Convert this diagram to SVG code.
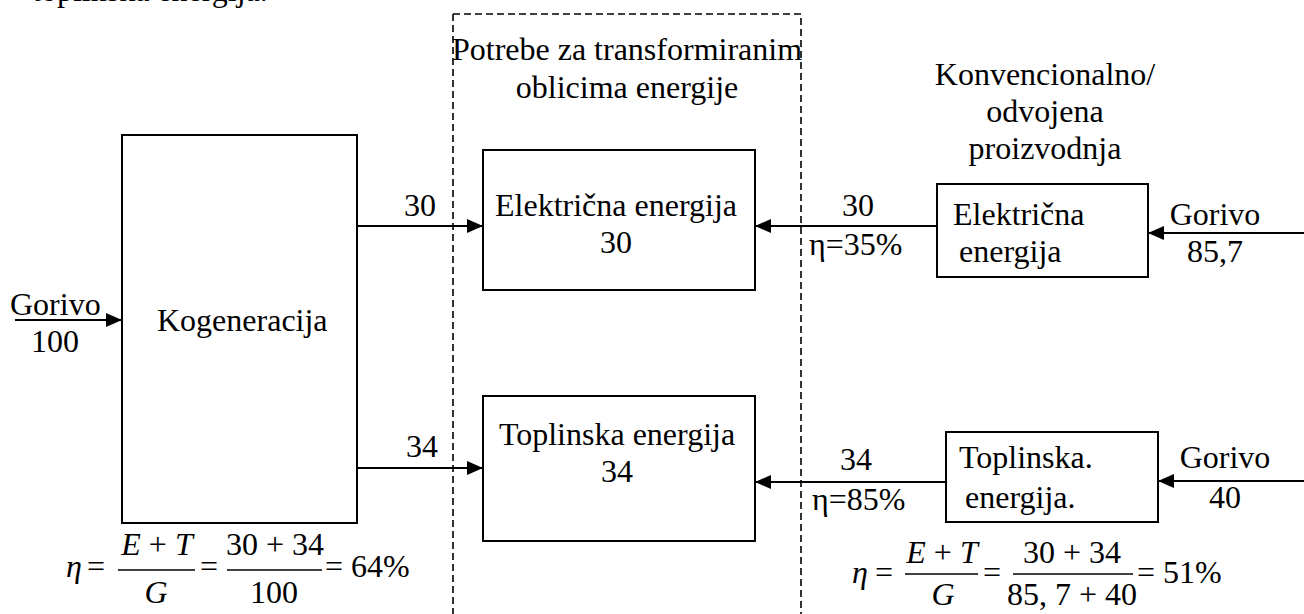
<svg xmlns="http://www.w3.org/2000/svg" width="1304" height="614" viewBox="0 0 1304 614">
<style>
text{font-family:"Liberation Serif","Times New Roman",serif;font-size:32px;fill:#000}
.m{text-anchor:middle}
.i{font-style:italic}
.box{fill:none;stroke:#000;stroke-width:2}
.arr{stroke:#000;stroke-width:2;fill:none;marker-end:url(#ah)}
.frac{stroke:#000;stroke-width:1.5}
</style>
<defs>
<marker id="ah" markerUnits="userSpaceOnUse" markerWidth="18" markerHeight="14" refX="16" refY="7" orient="auto">
<path d="M0,0 L16,7 L0,14 Z" fill="#000"/>
</marker>
</defs>
<rect width="1304" height="614" fill="#fff"/>
<text x="32" y="1">toplinska energija.</text>

<g id="demand-area">
<path d="M453,14 H801 V614 M453,14 V614" fill="none" stroke="#000" stroke-width="1.6" stroke-dasharray="7,4"/>
<text class="m" x="627" y="60">Potrebe za transformiranim</text>
<text class="m" x="627" y="98">oblicima energije</text>
</g>

<g id="kogeneracija">
<rect class="box" x="122" y="135" width="235" height="388"/>
<text x="157" y="331">Kogeneracija</text>
</g>

<g id="el-demand">
<rect class="box" x="483" y="150" width="272" height="140"/>
<text class="m" x="616" y="216">Električna energija</text>
<text class="m" x="616" y="253">30</text>
</g>

<g id="th-demand">
<rect class="box" x="483" y="396" width="272" height="145"/>
<text class="m" x="617" y="445">Toplinska energija</text>
<text class="m" x="617" y="482">34</text>
</g>

<g id="conv-label">
<text class="m" x="1045" y="85">Konvencionalno/</text>
<text class="m" x="1045" y="122">odvojena</text>
<text class="m" x="1045" y="159">proizvodnja</text>
</g>

<g id="conv-el">
<rect class="box" x="937" y="184" width="211" height="93"/>
<text x="953" y="225">Električna</text>
<text x="959" y="262">energija</text>
</g>

<g id="conv-th">
<rect class="box" x="946" y="432" width="212" height="90"/>
<text x="959" y="468">Toplinska.</text>
<text x="965" y="508">energija.</text>
</g>

<g id="connectors">
<line class="arr" x1="15" y1="320" x2="122" y2="320"/>
<line class="arr" x1="357" y1="226" x2="483" y2="226"/>
<line class="arr" x1="357" y1="468" x2="483" y2="468"/>
<line class="arr" x1="937" y1="226" x2="755" y2="226"/>
<line class="arr" x1="946" y1="482" x2="755" y2="482"/>
<line class="arr" x1="1304" y1="233" x2="1148" y2="233"/>
<line class="arr" x1="1304" y1="481" x2="1158" y2="481"/>
</g>

<g id="labels">
<text x="10" y="315">Gorivo</text>
<text class="m" x="55" y="352">100</text>
<text class="m" x="420" y="216">30</text>
<text class="m" x="422" y="457">34</text>
<text class="m" x="858" y="216">30</text>
<text x="809" y="255">η=35%</text>
<text class="m" x="856" y="470">34</text>
<text x="812" y="510">η=85%</text>
<text class="m" x="1215" y="225">Gorivo</text>
<text class="m" x="1215" y="262">85,7</text>
<text class="m" x="1225" y="468">Gorivo</text>
<text class="m" x="1225" y="508">40</text>
</g>

<g id="formula-left">
<text class="i" x="66" y="577">η</text>
<text x="87" y="577">=</text>
<text class="m" x="157" y="555"><tspan class="i">E</tspan> + <tspan class="i">T</tspan></text>
<line class="frac" x1="118" y1="570" x2="195" y2="570"/>
<text class="m i" x="156" y="603">G</text>
<text x="200" y="577">=</text>
<text class="m" x="275" y="555">30 + 34</text>
<line class="frac" x1="227" y1="570" x2="322" y2="570"/>
<text class="m" x="274" y="603">100</text>
<text x="325" y="577">= 64%</text>
</g>

<g id="formula-right">
<text class="i" x="852" y="583">η</text>
<text x="875" y="583">=</text>
<text class="m" x="942" y="563"><tspan class="i">E</tspan> + <tspan class="i">T</tspan></text>
<line class="frac" x1="905" y1="574" x2="978" y2="574"/>
<text class="m i" x="943" y="605">G</text>
<text x="983" y="583">=</text>
<text class="m" x="1072" y="563">30 + 34</text>
<line class="frac" x1="1013" y1="574" x2="1133" y2="574"/>
<text class="m" x="1072" y="605">85, 7 + 40</text>
<text x="1137" y="583">= 51%</text>
</g>
</svg>
